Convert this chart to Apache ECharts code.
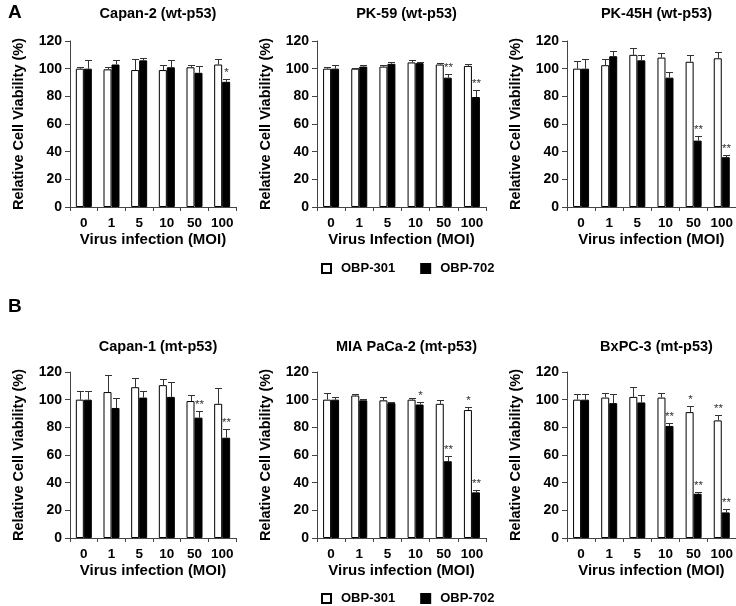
<!DOCTYPE html>
<html>
<head>
<meta charset="utf-8">
<script src="https://cdn.jsdelivr.net/npm/echarts@6/dist/echarts.min.js"></script>
<style>html,body{margin:0;padding:0;background:#fff}#c{width:736px;height:606px}</style>
</head>
<body>
<div id="c"></div>
<script>
// ---- data ----
const categories = ['0', '1', '5', '10', '50', '100'];
const yTicks = [0, 20, 40, 60, 80, 100, 120];
const seriesNames = ['OBP-301', 'OBP-702'];
const panelTitles = ['Capan-2 (wt-p53)', 'PK-59 (wt-p53)', 'PK-45H (wt-p53)',
                     'Capan-1 (mt-p53)', 'MIA PaCa-2 (mt-p53)', 'BxPC-3 (mt-p53)'];
const xNames = ['Virus infection (MOI)', 'Virus Infection (MOI)', 'Virus infection (MOI)',
                'Virus infection (MOI)', 'Virus infection (MOI)', 'Virus infection (MOI)'];
const yName = 'Relative Cell Viability (%)';

// Capan-2
const capan2_301 = [100, 99.5, 99, 99, 101, 103];
const capan2_301_err = [1.5, 2, 8, 4, 2, 4];
const capan2_702 = [100, 103, 106, 101, 97, 90.5];
const capan2_702_err = [6.5, 3, 2, 5.5, 5, 2];
const capan2_301_sig = ['', '', '', '', '', ''];
const capan2_702_sig = ['', '', '', '', '', '*'];
// PK-59
const pk59_301 = [100, 100, 101.5, 104.5, 103, 102];
const pk59_301_err = [1.5, 0.5, 1, 1.5, 1, 1.5];
const pk59_702 = [100, 101.5, 103.5, 104, 93.5, 79.5];
const pk59_702_err = [3, 1.5, 1.5, 1, 2.5, 5];
const pk59_301_sig = ['', '', '', '', '', ''];
const pk59_702_sig = ['', '', '', '', '**', '**'];
// PK-45H
const pk45h_301 = [100, 102.5, 110, 108, 105, 107.5];
const pk45h_301_err = [5.5, 4.5, 5, 3.5, 5, 4.5];
const pk45h_702 = [100, 109, 106, 93.5, 48, 36];
const pk45h_702_err = [7, 4, 4, 4, 3, 1.5];
const pk45h_301_sig = ['', '', '', '', '', ''];
const pk45h_702_sig = ['', '', '', '', '**', '**'];
// Capan-1
const capan1_301 = [100, 105.5, 109, 110.5, 99, 97];
const capan1_301_err = [6.5, 12.5, 7, 4.5, 4.5, 11.5];
const capan1_702 = [100, 94, 101.5, 102, 87, 72.5];
const capan1_702_err = [6, 7.5, 5, 11, 5, 6];
const capan1_301_sig = ['', '', '', '', '', ''];
const capan1_702_sig = ['', '', '', '', '**', '**'];
// MIA PaCa-2
const mia_301 = [100, 103, 99.5, 100, 97, 92.5];
const mia_301_err = [4.5, 1, 2.5, 1, 3, 2.5];
const mia_702 = [100, 99.5, 97.5, 96.5, 55.5, 33];
const mia_702_err = [2, 1, 1, 2, 3.5, 1.5];
const mia_301_sig = ['', '', '', '', '', '*'];
const mia_702_sig = ['', '', '', '*', '**', '**'];
// BxPC-3
const bxpc3_301 = [100, 101.5, 102, 101.5, 91, 85];
const bxpc3_301_err = [4, 3.5, 7, 3.5, 4.5, 4];
const bxpc3_702 = [100, 97.5, 98, 81, 32, 18.5];
const bxpc3_702_err = [4, 6.5, 5.5, 2, 1.5, 2.5];
const bxpc3_301_sig = ['', '', '', '', '*', '**'];
const bxpc3_702_sig = ['', '', '', '**', '**', '**'];

const panels = [
  [capan2_301, capan2_301_err, capan2_301_sig, capan2_702, capan2_702_err, capan2_702_sig],
  [pk59_301, pk59_301_err, pk59_301_sig, pk59_702, pk59_702_err, pk59_702_sig],
  [pk45h_301, pk45h_301_err, pk45h_301_sig, pk45h_702, pk45h_702_err, pk45h_702_sig],
  [capan1_301, capan1_301_err, capan1_301_sig, capan1_702, capan1_702_err, capan1_702_sig],
  [mia_301, mia_301_err, mia_301_sig, mia_702, mia_702_err, mia_702_sig],
  [bxpc3_301, bxpc3_301_err, bxpc3_301_sig, bxpc3_702, bxpc3_702_err, bxpc3_702_sig]
];

// ---- layout ----
const FONT = '"Liberation Sans", Arial, sans-serif';
const gridPos = [
  {left: 70, top: 41, width: 166, height: 166},
  {left: 317, top: 41, width: 169, height: 166},
  {left: 567, top: 41, width: 169, height: 166},
  {left: 70, top: 372, width: 166, height: 166},
  {left: 317, top: 372, width: 169, height: 166},
  {left: 567, top: 372, width: 169, height: 166}
];
const BW = 8;
const AXIS_COLOR = '#444';
const ERR_COLOR = '#333';

function errRender(vals, errs, sigs, side) {
  return function (params, api) {
    const i = params.dataIndex;
    const base = api.coord([i, vals[i]]);
    const top = api.coord([i, vals[i] + errs[i]]);
    const x = Math.round(base[0] + side * BW / 2) + 0.5;
    const yt = Math.round(top[1]) + 0.5;
    const children = [
      {type: 'line', shape: {x1: x, y1: base[1], x2: x, y2: yt}, style: {stroke: ERR_COLOR, lineWidth: 1}},
      {type: 'line', shape: {x1: x - 3.5, y1: yt, x2: x + 3.5, y2: yt}, style: {stroke: ERR_COLOR, lineWidth: 1}}
    ];
    if (sigs[i]) {
      children.push({type: 'text', style: {text: sigs[i], x: x, y: yt - 1, align: 'center', verticalAlign: 'bottom',
        fontSize: 11.5, fontFamily: FONT, fill: '#333'}});
    }
    return {type: 'group', children: children};
  };
}

const grid = [], xAxis = [], yAxis = [], series = [], title = [];
title.push({text: 'A', left: 3, top: -2, textStyle: {fontSize: 19, fontWeight: 'bold', fontFamily: FONT, color: '#000'}});
title.push({text: 'B', left: 3, top: 292, textStyle: {fontSize: 19, fontWeight: 'bold', fontFamily: FONT, color: '#000'}});

panels.forEach((p, k) => {
  const g = gridPos[k];
  grid.push(Object.assign({containLabel: false}, g));
  title.push({text: panelTitles[k], left: g.left + g.width / 2, top: k < 3 ? 1 : 334, textAlign: 'center',
    textStyle: {fontSize: 14.5, fontWeight: 'bold', fontFamily: FONT, color: '#000'}});
  xAxis.push({type: 'category', gridIndex: k, data: categories,
    name: xNames[k], nameLocation: 'middle', nameGap: 25,
    nameTextStyle: {fontSize: 15, fontWeight: 'bold', fontFamily: FONT, color: '#000'},
    axisLine: {lineStyle: {color: AXIS_COLOR, width: 1}},
    axisTick: {show: true, length: 4, interval: 0, lineStyle: {color: AXIS_COLOR}},
    axisLabel: {interval: 0, hideOverlap: false, margin: 9, fontSize: 13.5, fontWeight: 'bold', fontFamily: FONT, color: '#000'}});
  yAxis.push({type: 'value', gridIndex: k, min: 0, max: 120, interval: 20,
    name: yName, nameLocation: 'middle', nameGap: 44, nameRotate: 90,
    nameTextStyle: {fontSize: 14.5, fontWeight: 'bold', fontFamily: FONT, color: '#000'},
    axisLine: {show: true, lineStyle: {color: AXIS_COLOR, width: 1}},
    axisTick: {show: true, length: 5, lineStyle: {color: AXIS_COLOR}},
    splitLine: {show: false},
    axisLabel: {margin: 8, fontSize: 14, fontWeight: 'bold', fontFamily: FONT, color: '#000'}});
  const [w, we, ws, b, be, bs] = p;
  series.push({name: seriesNames[0], type: 'bar', xAxisIndex: k, yAxisIndex: k, data: w, barWidth: BW, barGap: '0%',
    itemStyle: {color: '#fff', borderColor: '#000', borderWidth: 1}, emphasis: {disabled: true}, z: 2});
  series.push({name: seriesNames[1], type: 'bar', xAxisIndex: k, yAxisIndex: k, data: b, barWidth: BW, barGap: '0%',
    itemStyle: {color: '#000', borderColor: '#000', borderWidth: 1}, emphasis: {disabled: true}, z: 2});
  series.push({type: 'custom', xAxisIndex: k, yAxisIndex: k, renderItem: errRender(w, we, ws, -1),
    data: w.map((v, i) => [i, v + we[i]]), encode: {x: 0, y: 1}, z: 3, silent: true});
  series.push({type: 'custom', xAxisIndex: k, yAxisIndex: k, renderItem: errRender(b, be, bs, 1),
    data: b.map((v, i) => [i, v + be[i]]), encode: {x: 0, y: 1}, z: 3, silent: true});
});

const legendBase = {data: seriesNames, left: 316, itemWidth: 9, itemHeight: 9, itemGap: 25, icon: 'rect',
  selectedMode: false,
  textStyle: {fontSize: 13, fontWeight: 'bold', fontFamily: FONT, color: '#000', padding: [0, 0, 0, 5]}};
const legend = [Object.assign({top: 257}, legendBase), Object.assign({top: 587}, legendBase)];

const chart = echarts.init(document.getElementById('c'), null, {renderer: 'canvas'});
chart.setOption({animation: false, backgroundColor: '#fff', title, grid, xAxis, yAxis, series, legend});
</script>
</body>
</html>
